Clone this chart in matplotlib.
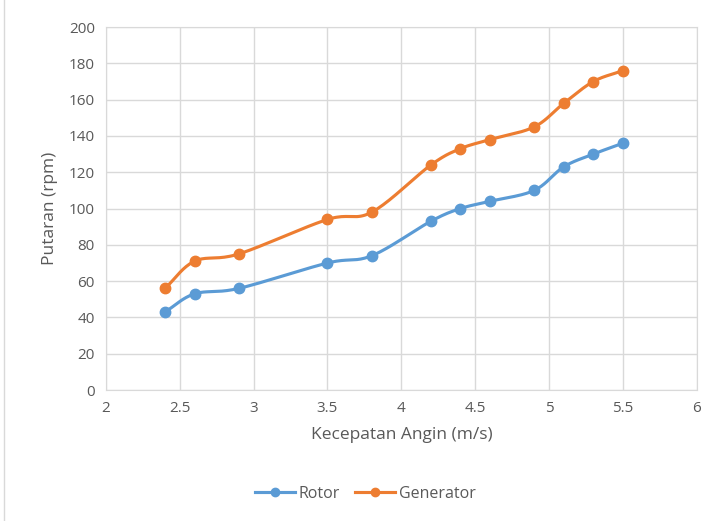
import matplotlib
matplotlib.use('Agg')
import matplotlib.pyplot as plt
import numpy as np
from matplotlib.patches import Rectangle

kecepatan = [2.4, 2.6, 2.9, 3.5, 3.8, 4.2, 4.4, 4.6, 4.9, 5.1, 5.3, 5.5]
rotor = [43, 53, 56, 70, 74, 93, 100, 104, 110, 123, 130, 136]
generator = [56, 71, 75, 94, 98, 124, 133, 138, 145, 158, 170, 176]

x_ticks = [2, 2.5, 3, 3.5, 4, 4.5, 5, 5.5, 6]
y_ticks = list(range(0, 201, 20))

plt.rcParams['font.family'] = ['Open Sans', 'DejaVu Sans']


def smooth(x, y, n=20):
    # catmull-rom, roughly what excel does for "smoothed line"
    x = np.asarray(x, float)
    y = np.asarray(y, float)
    px = np.concatenate([[2 * x[0] - x[1]], x, [2 * x[-1] - x[-2]]])
    py = np.concatenate([[2 * y[0] - y[1]], y, [2 * y[-1] - y[-2]]])
    t = np.linspace(0, 1, n, endpoint=False)
    xs, ys = [], []
    for i in range(1, len(px) - 2):
        for p, out in ((px, xs), (py, ys)):
            p0, p1, p2, p3 = p[i - 1], p[i], p[i + 1], p[i + 2]
            m1 = (p2 - p0) / 2 * 0.5
            m2 = (p3 - p1) / 2 * 0.5
            h00 = 2 * t**3 - 3 * t**2 + 1
            h10 = t**3 - 2 * t**2 + t
            h01 = -2 * t**3 + 3 * t**2
            h11 = t**3 - t**2
            out.extend(h00 * p1 + h10 * m1 * 2 + h01 * p2 + h11 * m2 * 2)
    xs.append(x[-1])
    ys.append(y[-1])
    return np.array(xs), np.array(ys)


fig = plt.figure(figsize=(7.16, 5.21), dpi=100)
ax = fig.add_axes([0.148, 0.2514, 0.825, 0.6966])

fig.patches.append(Rectangle((0.006, -0.01), 1.2, 1.2, transform=fig.transFigure,
                             fill=False, edgecolor='#D9D9D9', linewidth=1))

series = [(rotor, '#5B9BD5', 'Rotor'), (generator, '#ED7D31', 'Generator')]
for vals, col, name in series:
    sx, sy = smooth(kecepatan, vals)
    ax.plot(sx, sy, color=col, lw=2.25, solid_capstyle='round', zorder=3)
    ax.plot(kecepatan, vals, 'o', color=col, ms=7.5, zorder=4)
    ax.plot([], [], '-o', color=col, lw=2.25, ms=6, label=name)

ax.set_xlim(2, 6)
ax.set_ylim(0, 200)
ax.set_xticks(x_ticks)
ax.set_xticklabels([f'{v:g}' for v in x_ticks])
ax.set_yticks(y_ticks)
ax.grid(True, color='#D9D9D9', lw=1)
ax.set_axisbelow(True)
for s in ax.spines.values():
    s.set_color('#D9D9D9')
ax.tick_params(length=0, colors='#595959', labelsize=11, pad=8)

ax.set_xlabel('Kecepatan Angin (m/s)', color='#595959', fontsize=12.5, labelpad=8)
ax.set_ylabel('Putaran (rpm)', color='#595959', fontsize=12.5, labelpad=8)

fig.legend(loc='center', bbox_to_anchor=(0.51, 0.052), ncol=2, frameon=False,
           fontsize=11.5, labelcolor='#595959', handlelength=2.5,
           columnspacing=1.0, handletextpad=0.2)

fig.savefig('out.png', dpi=100)
